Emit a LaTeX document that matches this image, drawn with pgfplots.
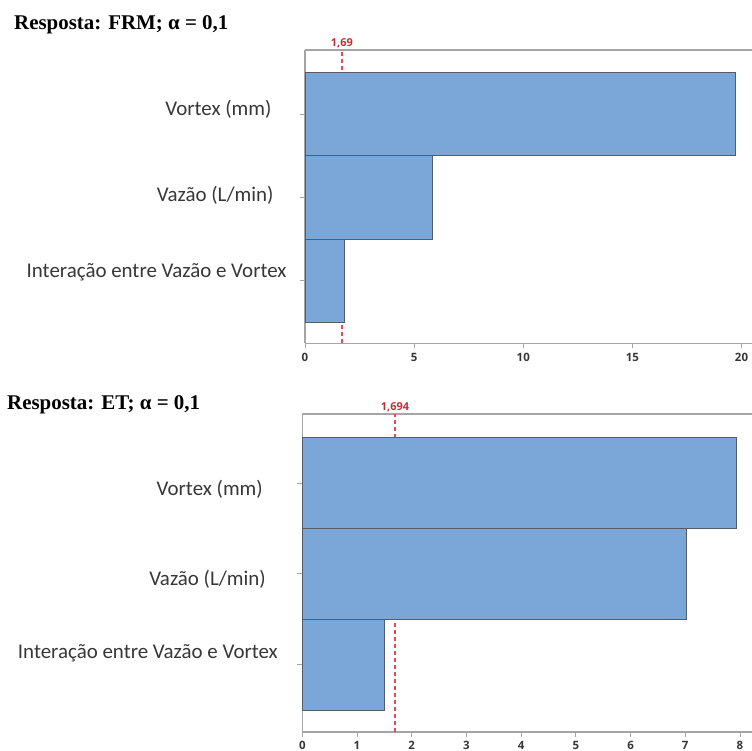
\documentclass[border=0pt]{standalone}
\usepackage{pgfplots}
\pgfplotsset{compat=1.18}
\usepackage{fontspec}
\setmainfont{Carlito}
\newfontfamily\titlefont{Liberation Serif}
\newfontfamily\tickfont{Open Sans}

\definecolor{barfill}{RGB}{123,166,216}
\definecolor{baredge}{RGB}{85,92,102}
\definecolor{axisgray}{RGB}{165,165,165}
\definecolor{refred}{RGB}{232,72,82}
\definecolor{reftext}{RGB}{190,50,55}
\definecolor{labelgray}{RGB}{55,55,55}

% category label: vertical nudge, extra gap to the axis, text
\newcommand{\lbl}[3]{\raisebox{#1}[\height][\depth]{#3}\hspace{#2}\mbox{}}

\tikzset{
  reflabel/.style={anchor=south, inner sep=1.5bp, text=reftext,
    font=\tickfont\fontsize{11}{13}\selectfont\bfseries},
}

\pgfplotsset{
  pareto/.style={
    scale only axis,
    anchor=south west,
    xmin=0,
    axis x line*=box,
    axis y line*=left,
    axis line style={axisgray, line width=1.2pt},
    tick align=outside,
    xtick pos=bottom,
    ytick pos=left,
    major tick length=5bp,
    tick style={axisgray, line width=0.9pt},
    ytick={1,2,3},
    yticklabel style={font=\fontsize{21}{25}\selectfont, text=labelgray, anchor=east, xshift=-10bp},
    xticklabel style={font=\tickfont\fontsize{11.5}{13}\selectfont\bfseries, text=labelgray, yshift=-1.5bp},
    /pgf/number format/assume math mode=true,
    clip=false,
  },
  effect/.style={
    xbar, bar width=1, bar shift=0pt,
    fill=barfill, draw=baredge, line width=1pt,
  },
  refline/.style={refred, dashed, line width=1.6pt, dash pattern=on 4bp off 3bp},
}

\begin{document}
\begin{tikzpicture}
\useasboundingbox (0bp,0bp) rectangle (752bp,751bp);

% Titles
\node[anchor=base west, inner sep=0pt] at (14bp,721bp)
  {\titlefont\bfseries\fontsize{21}{25}\selectfont Resposta: FRM; α = 0,1};
\node[anchor=base west, inner sep=0pt] at (7bp,341bp)
  {\titlefont\bfseries\fontsize{21}{25}\selectfont Resposta: ET; α = 0,1};

% Pareto chart of standardized effects: FRM
\begin{axis}[pareto,
  at={(305bp,407.7bp)},
  width=447bp, height=293.3bp,
  xmax=20.48, ymin=0.253, ymax=3.767,
  xtick={0,5,10,15,20},
  yticklabels={\lbl{9bp}{0bp}{Interação entre Vazão e Vortex},
               \lbl{2bp}{13bp}{Vazão (L/min)},
               \lbl{5bp}{15bp}{Vortex (mm)}},
]
\addplot[refline] coordinates {(1.69,0.253) (1.69,3.767)};
\addplot[effect] coordinates {(1.80,1) (5.83,2) (19.71,3)};
\node[reflabel] at (axis cs:1.69,3.767) {1,69};
\end{axis}

% Pareto chart of standardized effects: ET
\begin{axis}[pareto,
  at={(302.3bp,19bp)},
  width=449.7bp, height=318bp,
  xmax=8.22, ymin=0.258, ymax=3.761,
  xtick={0,1,...,8},
  xticklabel style={yshift=1bp},
  yticklabels={\lbl{11bp}{6bp}{Interação entre Vazão e Vortex},
               \lbl{-5bp}{18bp}{Vazão (L/min)},
               \lbl{-6bp}{21bp}{Vortex (mm)}},
]
\addplot[refline] coordinates {(1.694,0.258) (1.694,3.761)};
\addplot[effect] coordinates {(1.50,1) (7.02,2) (7.94,3)};
\node[reflabel] at (axis cs:1.694,3.761) {1,694};
\end{axis}
\end{tikzpicture}
\end{document}
